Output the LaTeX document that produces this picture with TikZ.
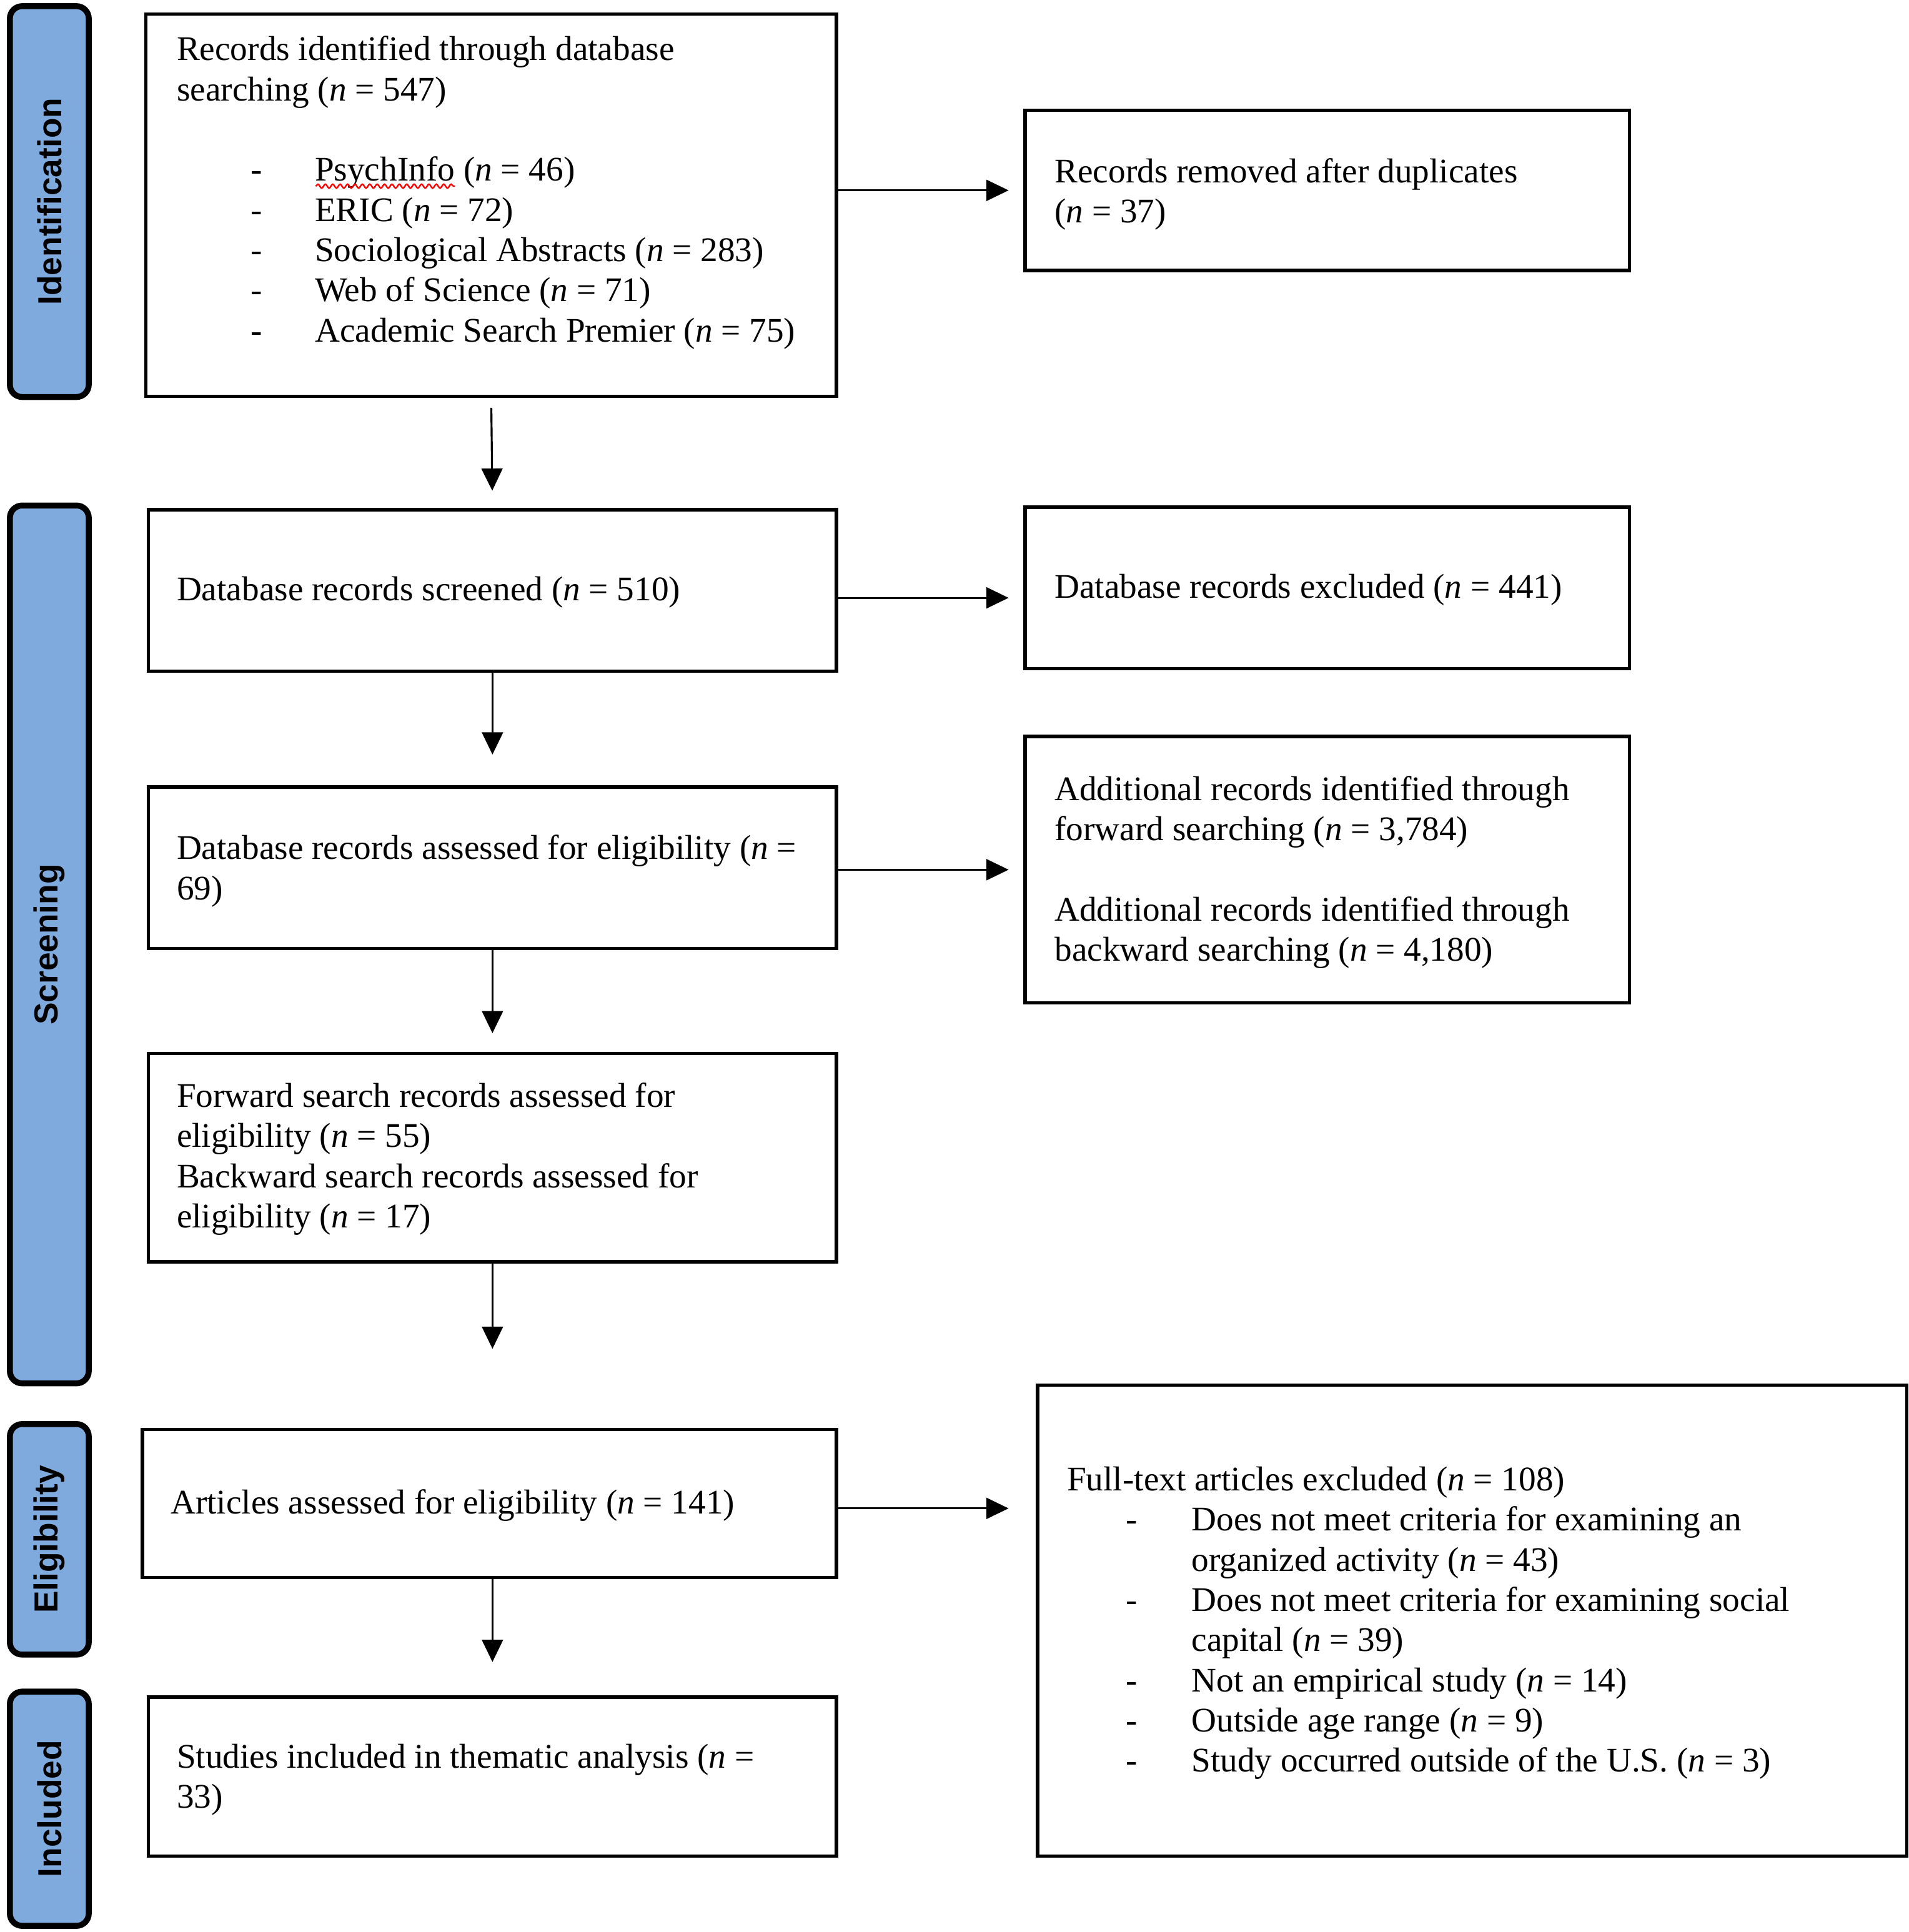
\documentclass[tikz,border=0pt]{standalone}
\usepackage{fontspec}
\setmainfont{Liberation Serif}
\newfontfamily\barfont{Liberation Sans}
\usetikzlibrary{arrows.meta,decorations.pathmorphing}
\definecolor{barblue}{RGB}{127,170,222}
\newcommand{\nitalic}{\textit{n}}
\newcommand{\dashitemA}[1]{\hspace*{30pt}\makebox[26pt][l]{-}#1}
\newcommand{\dashitemB}[1]{\hspace*{24pt}\makebox[26.5pt][l]{-}#1}
\newcommand{\contitemB}[1]{\hspace*{50.5pt}#1}
\begin{document}
\begin{tikzpicture}[x=0.5pt,y=-0.5pt,
  box/.style={draw, line width=1.4pt, inner sep=0pt, anchor=north west},
  bar/.style={draw, line width=2.4pt, fill=barblue, rounded corners=5pt, rotate=90,
    minimum height=32pt, inner sep=0pt, font=\barfont\bfseries\fontsize{13.5}{16}\selectfont},
  txt/.style={anchor=base west, inner sep=0pt, font=\fontsize{14}{16.3}\selectfont},
  arr/.style={-{Triangle[length=9pt,width=8.5pt]}, line width=0.8pt}]
\useasboundingbox (0,0) rectangle (1548,1567);

% phase bars
\node[bar, minimum width=158.5pt] (pid) at (40,163.5) {Identification};
\node[bar, minimum width=356pt] (psc) at (40,766) {Screening};
\node[bar, minimum width=93.5pt] (pel) at (40,1248.5) {Eligibility};
\node[bar, minimum width=95pt] (pin) at (40,1467) {Included};

% boxes
\node[box, minimum width=280pt, minimum height=155pt] (b1) at (117,10) {};
\node[box, minimum width=245pt, minimum height=65pt] (r1) at (830,88) {};
\node[box, minimum width=279pt, minimum height=65.5pt] (b2) at (119,412) {};
\node[box, minimum width=245pt, minimum height=65.5pt] (r2) at (830,410) {};
\node[box, minimum width=279pt, minimum height=65.5pt] (b3) at (119,637) {};
\node[box, minimum width=245pt, minimum height=108pt] (r3) at (830,596) {};
\node[box, minimum width=279pt, minimum height=84.5pt] (b4) at (119,853) {};
\node[box, minimum width=281.5pt, minimum height=60pt] (b5) at (114,1158) {};
\node[box, minimum width=352.5pt, minimum height=191pt] (r5) at (840,1122) {};
\node[box, minimum width=279pt, minimum height=64.5pt] (b6) at (119,1375) {};

% texts
\node[txt] (t1) at (143,49) {\begin{tabular}[t]{@{}l@{}}
Records identified through database\\
searching (\nitalic{} = 547)\\
\\
\dashitemA{PsychInfo (\nitalic{} = 46)}\\
\dashitemA{ERIC (\nitalic{} = 72)}\\
\dashitemA{Sociological Abstracts (\nitalic{} = 283)}\\
\dashitemA{Web of Science (\nitalic{} = 71)}\\
\dashitemA{Academic Search Premier (\nitalic{} = 75)}
\end{tabular}};
\draw[red, line width=0.6pt, decorate, decoration={snake, amplitude=0.8pt, segment length=3pt}]
  (256,151) -- (369,151);

\node[txt] (tr1) at (855,148) {\begin{tabular}[t]{@{}l@{}}
Records removed after duplicates\\
(\nitalic{} = 37)
\end{tabular}};

\node[txt] (t2) at (143,487) {Database records screened (\nitalic{} = 510)};
\node[txt] (tr2) at (855,485) {Database records excluded (\nitalic{} = 441)};

\node[txt] (t3) at (143,697) {\begin{tabular}[t]{@{}l@{}}
Database records assessed for eligibility (\nitalic{} =\\
69)
\end{tabular}};

\node[txt] (tr3) at (855,649) {\begin{tabular}[t]{@{}l@{}}
Additional records identified through\\
forward searching (\nitalic{} = 3,784)\\
\\
Additional records identified through\\
backward searching (\nitalic{} = 4,180)
\end{tabular}};

\node[txt] (t4) at (143,898) {\begin{tabular}[t]{@{}l@{}}
Forward search records assessed for\\
eligibility (\nitalic{} = 55)\\
Backward search records assessed for\\
eligibility (\nitalic{} = 17)
\end{tabular}};

\node[txt] (t5) at (138,1228) {Articles assessed for eligibility (\nitalic{} = 141)};

\node[txt] (tr5) at (865,1209) {\begin{tabular}[t]{@{}l@{}}
Full-text articles excluded (\nitalic{} = 108)\\
\dashitemB{Does not meet criteria for examining an}\\
\contitemB{organized activity (\nitalic{} = 43)}\\
\dashitemB{Does not meet criteria for examining social}\\
\contitemB{capital (\nitalic{} = 39)}\\
\dashitemB{Not an empirical study (\nitalic{} = 14)}\\
\dashitemB{Outside age range (\nitalic{} = 9)}\\
\dashitemB{Study occurred outside of the U.S. (\nitalic{} = 3)}
\end{tabular}};

\node[txt] (t6) at (143,1434) {\begin{tabular}[t]{@{}l@{}}
Studies included in thematic analysis (\nitalic{} =\\
33)
\end{tabular}};

% vertical connectors
\draw[arr, shorten <=4pt, shorten >=7pt] (b1.south) -- (b2.north);
\draw[arr, shorten >=12.5pt] (b2.south) -- (b3.north);
\draw[arr, shorten >=7.5pt] (b3.south) -- (b4.north);
\draw[arr, shorten >=32pt] (b4.south) -- (b5.north -| b4.south);
\draw[arr, shorten >=13.5pt] (b5.south -| b6.north) -- (b6.north);

% horizontal connectors
\draw[arr, shorten >=6pt] (r1.west -| b1.east) -- (r1.west);
\draw[arr, shorten >=6pt] ([yshift=-3pt]b2.east) -- ([yshift=-3pt]b2.east -| r2.west);
\draw[arr, shorten >=6pt] (r3.west -| b3.east) -- (r3.west);
\draw[arr, shorten >=11pt] ([yshift=-2pt]b5.east) -- ([yshift=-2pt]b5.east -| r5.west);
\end{tikzpicture}
\end{document}
